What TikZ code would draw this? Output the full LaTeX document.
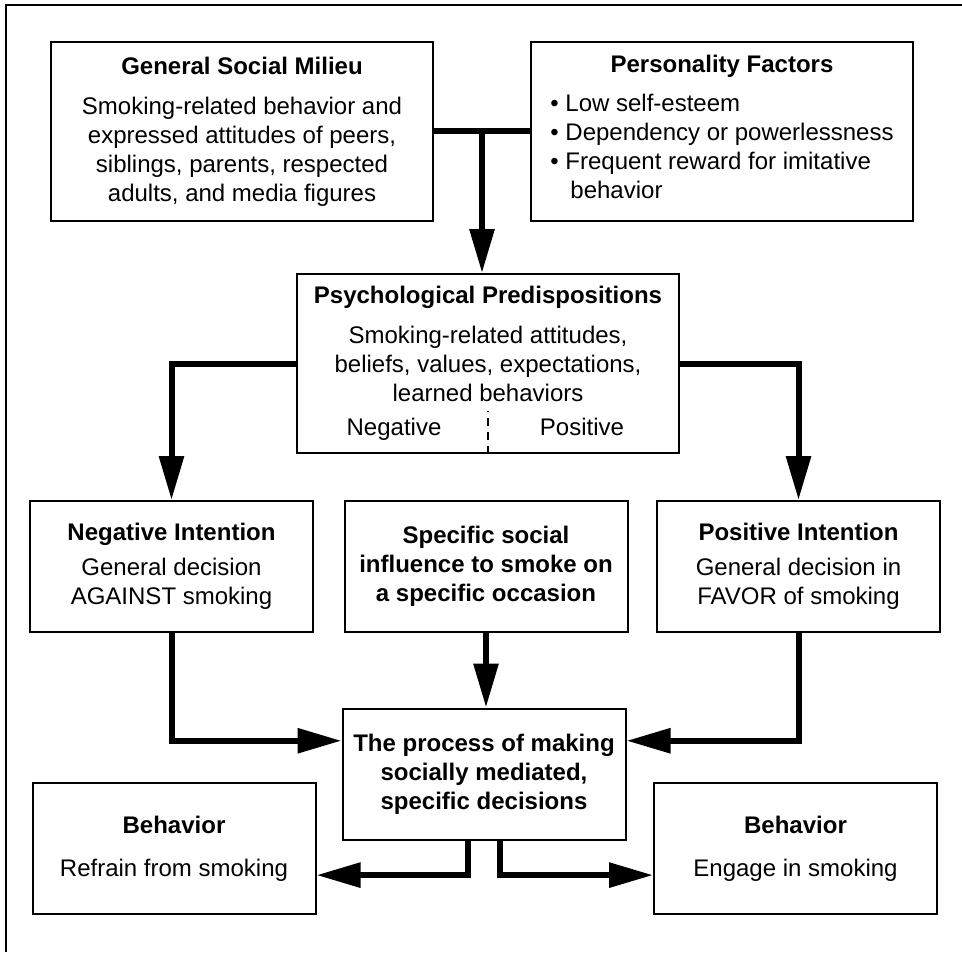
\documentclass[tikz,border=0pt]{standalone}
\usepackage{fontspec}
\setmainfont{Liberation Sans}
\usetikzlibrary{arrows.meta,calc}

\begin{document}
\begin{tikzpicture}[x=0.5pt,y=-0.5pt,
  font=\fontsize{12}{14.5}\selectfont,
  block/.style={draw,line width=1pt,align=center,inner sep=1pt},
  big/.style={block,minimum width=191pt,minimum height=89.5pt},
  small/.style={block,minimum width=141.5pt,minimum height=65.5pt},
  bold/.style={font=\fontsize{12}{14.5}\selectfont\bfseries},
  wire/.style={line width=3pt},
  link/.style={wire,-{Triangle[length=22pt,width=12pt]}}]
  \useasboundingbox (0,0) rectangle (962,952);
  % 外框
  \draw[line width=1pt] (962,5) -- (6,5) -- (6,952);

  % 第一层
  \node[big] (mil) at (242,131.5) {\textbf{General Social Milieu}\\[5.5pt]
    Smoking-related behavior and\\ expressed attitudes of peers,\\
    siblings, parents, respected\\ adults, and media figures};
  \node[big] (pers) at (722,131.5) {\textbf{Personality Factors}\\[6pt]
    \begin{tabular}{@{}l@{}}
      \textbullet\ Low self-esteem\\
      \textbullet\ Dependency or powerlessness\\
      \textbullet\ Frequent reward for imitative\\
      \phantom{\textbullet\ }\hspace{2.5pt}behavior
    \end{tabular}};

  % 第二层
  \node[big] (psych) at (488,363.5) {\textbf{Psychological Predispositions}\\[5.5pt]
    Smoking-related attitudes,\\ beliefs, values, expectations,\\ learned behaviors\\[2.5pt]
    \makebox[94pt]{Negative}\makebox[94pt]{Positive}};
  \draw[line width=0.8pt,dash pattern=on 4pt off 3pt] (psych.south) -- ++(0,-43);

  % 第三层
  \node[small] (neg) at (171.5,566.5) {\textbf{Negative Intention}\\[3pt]
    General decision\\ AGAINST smoking};
  \node[small,bold] (spec) at (486,566.5) {Specific social\\
    influence to smoke on\\ a specific occasion};
  \node[small] (pos) at (798.5,566.5) {\textbf{Positive Intention}\\[3pt]
    General decision in\\ FAVOR of smoking};

  % 第四层
  \node[small,bold] (proc) at (484,774) {The process of making\\
    socially mediated,\\ specific decisions};
  \node[small] (behl) at (174,848.5) {\textbf{Behavior}\\[7pt] Refrain from smoking};
  \node[small] (behr) at (795.5,848.5) {\textbf{Behavior}\\[7pt] Engage in smoking};

  % 连线
  \coordinate (jn) at ($(mil.east)!0.5!(pers.west)$);
  \coordinate (inl) at ($(proc.north west)!0.25!(proc.south west)$);
  \coordinate (inr) at ($(proc.north east)!0.25!(proc.south east)$);
  \coordinate (outl) at ($(behl.north east)!0.7!(behl.south east)$);
  \coordinate (outr) at ($(behr.north west)!0.7!(behr.south west)$);
  \draw[wire] (mil.east) -- (pers.west);
  \draw[link] (jn) -- (jn |- psych.north);
  \draw[link] (psych.west) -| (neg.north);
  \draw[link] (psych.east) -| (pos.north);
  \draw[link] (spec.south) -- (spec.south |- proc.north);
  \draw[link] (neg.south) |- (inl);
  \draw[link] (pos.south) |- (inr);
  \draw[link] ([xshift=-8pt]proc.south) |- (outl);
  \draw[link] ([xshift=8pt]proc.south) |- (outr);
\end{tikzpicture}
\end{document}
